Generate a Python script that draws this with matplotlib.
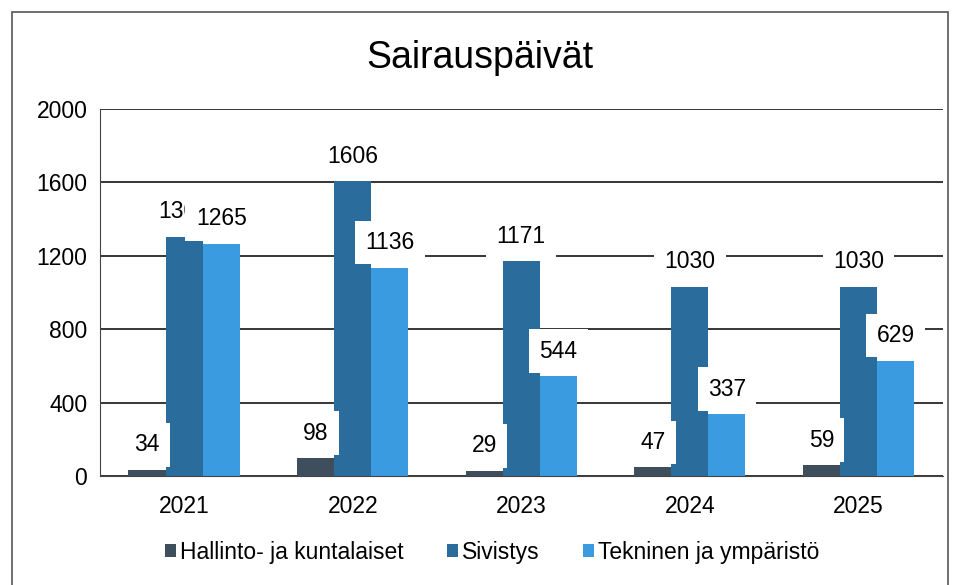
import numpy as np
import matplotlib.pyplot as plt
from matplotlib.patches import Rectangle

plt.rcParams['font.family'] = ['Liberation Sans', 'DejaVu Sans']

years = ["2021", "2022", "2023", "2024", "2025"]
hallinto = [34, 98, 29, 47, 59]
sivistys = [1305, 1606, 1171, 1030, 1030]
tekninen = [1265, 1136, 544, 337, 629]

series = ["Hallinto- ja kuntalaiset", "Sivistys", "Tekninen ja ympäristö"]
colors = ["#3f4e5c", "#2a6d9c", "#3a9be0"]

fig = plt.figure(figsize=(9.6, 5.85), dpi=100)
fig.patches.append(Rectangle((12 / 960, -0.01), 936 / 960, 1 - 12 / 585 + 0.01,
                             transform=fig.transFigure, fill=False,
                             edgecolor="#555555", linewidth=1.2))
ax = fig.add_axes([0.104, 0.1863, 0.878, 0.6274])

x = np.arange(len(years))
w = 0.22
data = [hallinto, sivistys, tekninen]
for i, (vals, c) in enumerate(zip(data, colors)):
    pos = x + (i - 1) * w
    ax.bar(pos, vals, width=w, color=c, zorder=2, label=series[i])
    # value labels with white boxes, later series drawn on top
    for p, v in zip(pos, vals):
        ax.annotate(str(v), (p, v), xytext=(0, 25), textcoords="offset pixels",
                    ha="center", va="center", fontsize=16.5, zorder=5 + i,
                    bbox=dict(boxstyle="square,pad=0.45", fc="white", ec="none"))

ax.set_xlim(-0.5, 4.5)
ax.set_ylim(0, 2000)
ax.set_yticks(range(0, 2001, 400))
ax.set_xticks(x)
ax.set_xticklabels(years)
ax.tick_params(axis="both", labelsize=16.5, length=0)
ax.tick_params(axis="x", pad=14)
ax.tick_params(axis="y", pad=9)
ax.yaxis.grid(True, color="black", linewidth=1.1, zorder=0)
ax.set_axisbelow(True)
for s in ["top", "right"]:
    ax.spines[s].set_visible(False)
ax.spines["left"].set_color("#444444")
ax.spines["bottom"].set_color("#444444")

fig.text(0.5, 0.9, "Sairauspäivät", ha="center", va="center", fontsize=27)
fig.legend(loc="center", bbox_to_anchor=(0.513, 0.056), ncol=3, frameon=False,
           fontsize=16.5, handlelength=0.45, handleheight=0.45, handletextpad=0.2,
           columnspacing=1.9)

fig.savefig("out.png", dpi=100)
